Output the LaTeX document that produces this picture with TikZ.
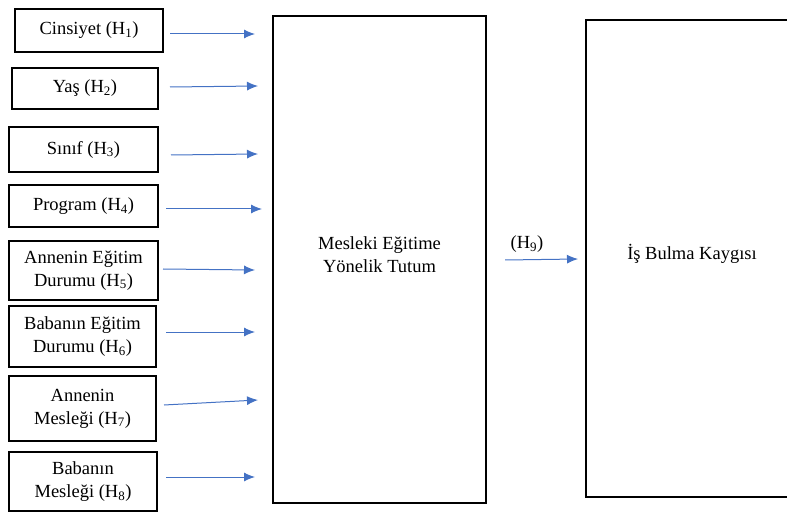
\documentclass[tikz,border=0pt]{standalone}
\usepackage{fontspec}
\setmainfont{Liberation Serif}
\usetikzlibrary{arrows.meta}
\definecolor{arrowblue}{RGB}{68,114,196}
\tikzset{
  txt/.style={font=\fontsize{18.5bp}{23bp}\selectfont, align=center, inner sep=0pt},
  varbox/.style={txt, draw, line width=1.6bp},
  link/.style={draw=arrowblue, line width=1bp, -{Latex[length=11bp,width=9bp]}}
}
\begin{document}
\begin{tikzpicture}[x=1bp,y=-1bp]
  \useasboundingbox (0,0) rectangle (787,512);
  % independent variables
  \node[varbox, minimum width=148bp, minimum height=43bp] (cins) at (89,30.5) {Cinsiyet (H\textsubscript{1})};
  \node[varbox, minimum width=146bp, minimum height=41bp] (yas) at (85,88.5) {Yaş (H\textsubscript{2})};
  \node[varbox, minimum width=149bp, minimum height=45bp] (sinif) at (83.5,149.5) {Sınıf (H\textsubscript{3})};
  \node[varbox, minimum width=149bp, minimum height=42bp] (prog) at (83.5,206) {Program (H\textsubscript{4})};
  \node[varbox, minimum width=149bp, minimum height=59bp] (anegt) at (83.5,270.5) {Annenin Eğitim\\Durumu (H\textsubscript{5})};
  \node[varbox, minimum width=147bp, minimum height=61bp] (babegt) at (82.5,336.5) {Babanın Eğitim\\Durumu (H\textsubscript{6})};
  \node[varbox, minimum width=147bp, minimum height=65bp] (anmes) at (82.5,408.5) {Annenin\\Mesleği (H\textsubscript{7})};
  \node[varbox, minimum width=148bp, minimum height=59bp] (babmes) at (83,481.5) {Babanın\\Mesleği (H\textsubscript{8})};
  % mediator and outcome
  \node[varbox, text depth=10bp, minimum width=213bp, minimum height=487bp] (tutum) at (379.5,259.5) {Mesleki Eğitime\\Yönelik Tutum};
  \node[varbox, text depth=14bp, minimum width=212bp, minimum height=477bp] (kaygi) at (692,258.5) {İş Bulma Kaygısı};
  \node[txt] (h9) at (527,244) {(H\textsubscript{9})};
  % arrow ends
  \coordinate (s1) at (170,34);  \coordinate (e1) at (255,34);
  \coordinate (s2) at (170,87);  \coordinate (e2) at (258,86);
  \coordinate (s3) at (171,155); \coordinate (e3) at (258,154);
  \coordinate (s4) at (166,209); \coordinate (e4) at (262,209);
  \coordinate (s5) at (163,269); \coordinate (e5) at (255,270);
  \coordinate (s6) at (166,332); \coordinate (e6) at (255,332);
  \coordinate (s7) at (164,405); \coordinate (e7) at (258,400);
  \coordinate (s8) at (166,477); \coordinate (e8) at (255,477);
  \coordinate (s9) at (505,260); \coordinate (e9) at (578,259);
  \draw[link] (s1) -- (e1);
  \draw[link] (s2) -- (e2);
  \draw[link] (s3) -- (e3);
  \draw[link] (s4) -- (e4);
  \draw[link] (s5) -- (e5);
  \draw[link] (s6) -- (e6);
  \draw[link] (s7) -- (e7);
  \draw[link] (s8) -- (e8);
  \draw[link] (s9) -- (e9);
\end{tikzpicture}
\end{document}
